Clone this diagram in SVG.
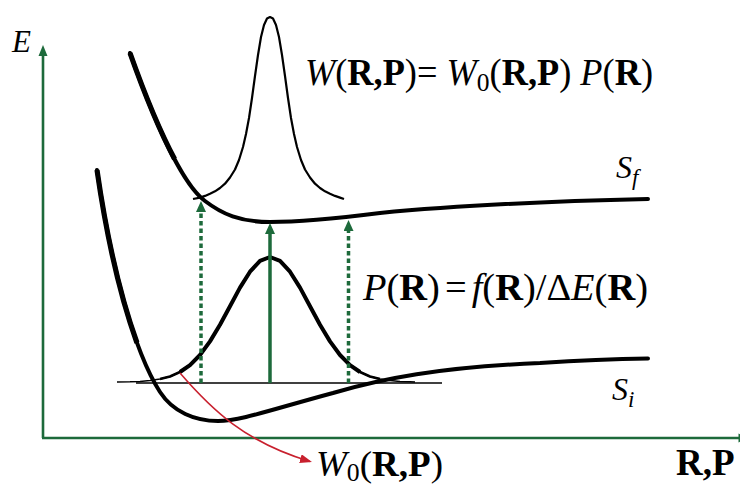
<svg xmlns="http://www.w3.org/2000/svg" width="740" height="485" viewBox="0 0 740 485">
<defs>
<style>
text{font-family:"Liberation Serif","Tinos","DejaVu Serif","Noto Serif",serif;fill:#000}
.it{font-style:italic}
.b{font-weight:bold}
.axis{stroke:#1d6a3b;stroke-width:2.6;fill:none}
.gar{stroke:#1d6a3b;stroke-width:3.5;fill:none}
.dot{stroke-dasharray:4.5 3}
.pes{stroke:#000;fill:none;stroke-width:4;stroke-linecap:round;stroke-linejoin:round}
.steep{stroke:#000;fill:none;stroke-width:5.2;stroke-linecap:butt}
.thin{stroke:#000;fill:none;stroke-linejoin:round}
</style>
<marker id="ga" markerUnits="userSpaceOnUse" markerWidth="11" markerHeight="10" refX="3" refY="5" orient="auto">
<path d="M0,0 L11,5 L0,10 z" fill="#1d6a3b"/>
</marker>
<marker id="ra" markerUnits="userSpaceOnUse" markerWidth="12" markerHeight="9" refX="10" refY="4.5" orient="auto">
<path d="M0,0 L12,4.5 L0,9 z" fill="#c8202e"/>
</marker>
</defs>
<rect width="740" height="485" fill="#fff"/>

<g id="axes">
<line class="axis" x1="43" y1="438" x2="43" y2="55"/>
<polygon points="38.5,56 43,45 47.5,56" fill="#1d6a3b"/>
<line class="axis" x1="42" y1="438" x2="740" y2="438"/>
<polygon points="738.5,433.5 749,438 738.5,442.5" fill="#1d6a3b"/>
</g>

<g id="curve-Sf">
<path class="pes" d="M130,53 C152,115 181,183 205,201 C222,214 240,222 270,222 C300,222 340,218 380,213 C460,205 560,201 648,199"/>
<path class="steep" d="M130,53 C143.2,90.2 158.92,129.56 174.57,158.98"/>
</g>

<g id="curve-Si">
<path class="pes" d="M97,170 C110,260 133,350 160,392 C173,412 195,421 218,421 C240,421 270,410 333,393 C380,379 440,367 540,363 C580,360.5 620,359 648,358.5"/>
<path class="steep" d="M97,170 C106.1,233 120.1,296 136.94,342.75"/>
</g>

<g id="baseline">
<line class="thin" stroke-width="1.4" x1="136" y1="383" x2="442" y2="383"/>
</g>

<g id="gauss-P">
<polyline class="thin" stroke-width="1.5" points="117,382 130,381.8 140,381.4 150,380.6 160,379.1 170,376.5 180,372 190,365.1 200,355 210,341.4 220,324.8 230,306.2 240,287.6 250,271.7 260,260.9 270,257 280,260.9 290,271.7 300,287.6 310,306.2 320,324.8 330,341.4 340,355 350,365.1 360,372 370,376.5 380,379.1 390,380.6 400,381.4 410,381.8 415,382"/>
<polyline class="thin" stroke-width="2.6" points="160,379.1 170,376.5 180,372 190,365.1 200,355 210,341.4 220,324.8 230,306.2 240,287.6 250,271.7 260,260.9 270,257 280,260.9 290,271.7 300,287.6 310,306.2 320,324.8 330,341.4 340,355 350,365.1 360,372 370,376.5 380,379.1"/>
<polyline class="thin" stroke-width="4" points="180,372 190,365.1 200,355 210,341.4 220,324.8 230,306.2 240,287.6 250,271.7 260,260.9 270,257 280,260.9 290,271.7 300,287.6 310,306.2 320,324.8 330,341.4 340,355 350,365.1 360,372"/>
</g>

<g id="peak-W">
<polyline class="thin" stroke-width="2.2" points="193,199 200,197.6 205,195.9 210,193.8 215,191.3 220,188 225,183.7 230,177.5 235,169.5 239,160 243,147 246,134 249,118 252,98 255,76 258,55 261,37 264,25 267,18.5 270,17 273,18.5 276,25 279,37 282,55 285,76 288,98 291,118 294,134 297,147 301,160 305,169.5 310,177.5 315,183.7 320,188 325,191.3 330,193.8 335,195.9 340,197.6 344,199"/>
</g>

<g id="connectors">
<line class="gar dot" x1="201" y1="383" x2="201" y2="209" marker-end="url(#ga)"/>
<line class="gar" x1="270" y1="383" x2="270" y2="231" marker-end="url(#ga)"/>
<line class="gar dot" x1="348.5" y1="383" x2="348.5" y2="228" marker-end="url(#ga)"/>
<path d="M180,373 C212,410 245,442 310,461.5" fill="none" stroke="#c8202e" stroke-width="1.6" marker-end="url(#ra)"/>
</g>

<g id="label-E">
<text x="12" y="52" font-size="31" class="it">E</text>
</g>

<g id="label-W">
<text x="305" y="85" font-size="37" textLength="348" lengthAdjust="spacingAndGlyphs"><tspan class="it">W</tspan>(<tspan class="b">R,P</tspan>)= <tspan class="it">W</tspan><tspan font-size="26" dy="6">0</tspan><tspan dy="-6">(</tspan><tspan class="b">R,P</tspan>) <tspan class="it">P</tspan>(<tspan class="b">R</tspan>)</text>
</g>

<g id="label-Sf">
<text x="616" y="178" font-size="32" class="it">S<tspan font-size="23" dy="7">f</tspan></text>
</g>

<g id="label-P">
<text x="363" y="300" font-size="38" textLength="285" lengthAdjust="spacingAndGlyphs"><tspan class="it">P</tspan>(<tspan class="b">R</tspan>)<tspan dx="5">=</tspan><tspan dx="5" class="it">f</tspan>(<tspan class="b">R</tspan>)/Δ<tspan class="it">E</tspan>(<tspan class="b">R</tspan>)</text>
</g>

<g id="label-Si">
<text x="612" y="400" font-size="32" class="it">S<tspan font-size="23" dy="7">i</tspan></text>
</g>

<g id="label-W0">
<text x="316" y="476" font-size="36" textLength="127" lengthAdjust="spacingAndGlyphs"><tspan class="it">W</tspan><tspan font-size="25" dy="5">0</tspan><tspan dy="-5">(</tspan><tspan class="b">R,P</tspan>)</text>
</g>

<g id="label-RP">
<text x="676" y="475" font-size="37" class="b">R,P</text>
</g>
</svg>
